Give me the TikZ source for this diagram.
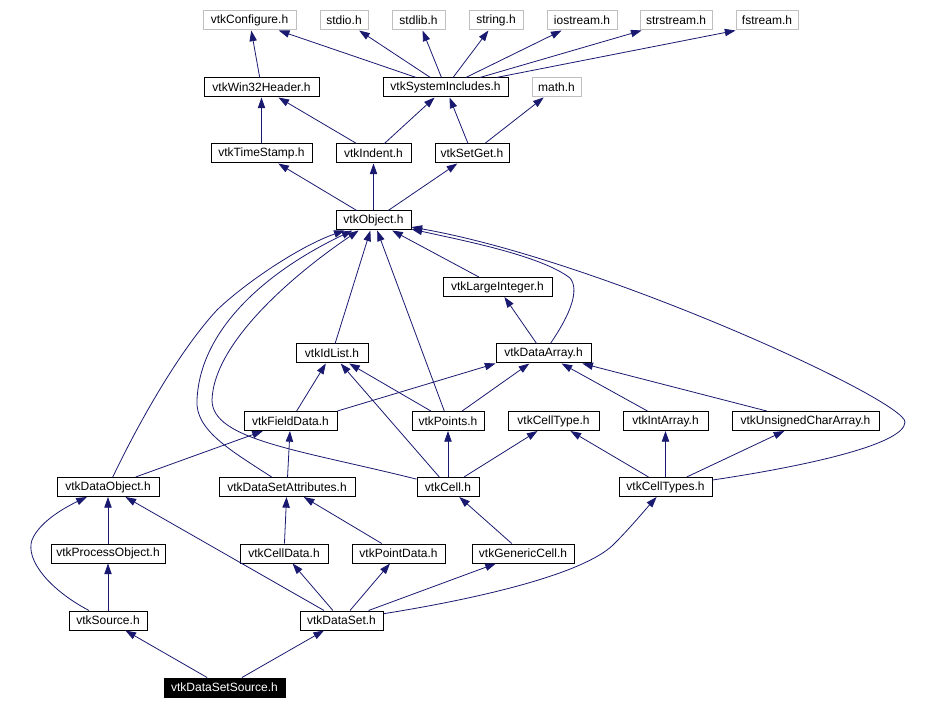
\documentclass[tikz,border=0pt]{standalone}
\usepackage{fontspec}
\setmainfont{Liberation Sans}
\usepackage{tikz}
\usetikzlibrary{arrows.meta}
\usepackage{xcolor}
\definecolor{edgeblue}{HTML}{191970}
\definecolor{sysgray}{HTML}{BFBFBF}

\begin{document}
\begin{tikzpicture}[x=0.75pt, y=-0.75pt,
        every node/.style={font=\fontsize{9}{10}\selectfont},
        hdr/.style={draw=black, line width=0.75pt, inner sep=0pt, minimum height=14.25pt, minimum width=#1*0.75pt},
        syshdr/.style={hdr=#1, draw=sysgray},
        curhdr/.style={hdr=#1, fill=black, text=white},
        dep/.style={draw=edgeblue, line width=0.6pt, -{Triangle[length=8pt,width=5.5pt]}}]
        \useasboundingbox (0,0) rectangle (950,709);
        % System headers
        \node[syshdr=93] (cfg) at (249.5,20.5) {vtkConfigure.h};
        \node[syshdr=48] (stdio) at (344,20.5) {stdio.h};
        \node[syshdr=53] (stdlib) at (418.5,20.5) {stdlib.h};
        \node[syshdr=54] (string) at (496,20.5) {string.h};
        \node[syshdr=70] (iostream) at (582,20.5) {iostream.h};
        \node[syshdr=72] (strstream) at (676,20.5) {strstream.h};
        \node[syshdr=62] (fstream) at (767,20.5) {fstream.h};
        \node[syshdr=49] (mathh) at (556.5,87.5) {math.h};
        % Common headers
        \node[hdr=115] (win32) at (261.5,87.5) {vtkWin32Header.h};
        \node[hdr=125] (sysinc) at (445.5,87.5) {vtkSystemIncludes.h};
        \node[hdr=101] (timestamp) at (261.5,153.5) {vtkTimeStamp.h};
        \node[hdr=75] (indent) at (373.5,153.5) {vtkIndent.h};
        \node[hdr=74] (setget) at (472,153.5) {vtkSetGet.h};
        \node[hdr=75] (object) at (373.5,220.5) {vtkObject.h};
        \node[hdr=109] (largeint) at (497.5,287) {vtkLargeInteger.h};
        \node[hdr=72] (idlist) at (332,353.5) {vtkIdList.h};
        \node[hdr=95] (dataarray) at (543.5,353.5) {vtkDataArray.h};
        \node[hdr=93] (fielddata) at (290.5,421) {vtkFieldData.h};
        \node[hdr=72] (points) at (448,421) {vtkPoints.h};
        \node[hdr=91] (celltype) at (553.5,421) {vtkCellType.h};
        \node[hdr=85] (intarray) at (665.5,421) {vtkIntArray.h};
        \node[hdr=147] (uchar) at (805.5,421) {vtkUnsignedCharArray.h};
        \node[hdr=102] (dataobject) at (108,487) {vtkDataObject.h};
        \node[hdr=136] (dsattr) at (287,487) {vtkDataSetAttributes.h};
        \node[hdr=62] (cell) at (448,487) {vtkCell.h};
        \node[hdr=93] (celltypes) at (665.5,487) {vtkCellTypes.h};
        \node[hdr=114] (procobj) at (108,553.5) {vtkProcessObject.h};
        \node[hdr=88] (celldata) at (284,553.5) {vtkCellData.h};
        \node[hdr=93] (pointdata) at (398.5,553.5) {vtkPointData.h};
        \node[hdr=102] (genericcell) at (523,553.5) {vtkGenericCell.h};
        \node[hdr=78] (source) at (108,620.5) {vtkSource.h};
        \node[hdr=83] (dataset) at (341.5,620.5) {vtkDataSet.h};
        \node[curhdr=121] (dssource) at (224.5,687.5) {vtkDataSetSource.h};
        % Top of the graph
        \draw[dep] (win32) -- (cfg);
        \foreach \t in {cfg,stdio,stdlib,string,iostream,strstream}
            \draw[dep] (sysinc) -- (\t);
        \draw[dep] (sysinc) -- (fstream.south west);
        \draw[dep] (timestamp) -- (win32);
        \draw[dep] (indent) -- (win32);
        \draw[dep] (indent) -- (sysinc);
        \draw[dep] (setget) -- (sysinc);
        \draw[dep] (setget) -- (mathh);
        \draw[dep] (object) -- (timestamp);
        \draw[dep] (object) -- (indent);
        \draw[dep] (object) -- (setget);
        % Into vtkObject.h
        \draw[dep] (largeint) -- (object);
        \draw[dep] (idlist) -- (object);
        \draw[dep] (points) -- (object);
        \draw[dep] (dataarray) .. controls (570,315) and (580,290) .. (570,278) .. controls (540,255) and (460,240) .. (object);
        \draw[dep] (celltypes) .. controls (800,467) and (905,445) .. (905,422) .. controls (905,400) and (600,260) .. (object);
        \draw[dep] (dataobject) .. controls (140,420) and (180,350) .. (217,310) .. controls (245,283) and (300,246) .. (object);
        \draw[dep] (dsattr) .. controls (230,450) and (195,430) .. (197,400) .. controls (200,330) and (265,272) .. (object);
        \draw[dep] (cell) .. controls (300,450) and (212,440) .. (212,400) .. controls (214,340) and (300,270) .. (object);
        % Arrays and cells
        \draw[dep] (dataarray) -- (largeint);
        \draw[dep] (fielddata) -- (idlist);
        \draw[dep] (fielddata.north east) -- (dataarray.south west);
        \draw[dep] (points) -- (idlist);
        \draw[dep] (points) -- (dataarray);
        \draw[dep] (intarray) -- (dataarray);
        \draw[dep] (uchar) -- (dataarray);
        \draw[dep] (cell) -- (idlist);
        \draw[dep] (cell) -- (points);
        \draw[dep] (cell) -- (celltype);
        \draw[dep] (celltypes) -- (celltype);
        \draw[dep] (celltypes) -- (intarray);
        \draw[dep] (celltypes) -- (uchar);
        % Data objects
        \draw[dep] (dataobject) -- (fielddata);
        \draw[dep] (dsattr) -- (fielddata);
        \draw[dep] (procobj) -- (dataobject);
        \draw[dep] (source) -- (procobj);
        \draw[dep] (source) .. controls (50,590) and (25,560) .. (32,540) .. controls (40,520) and (70,505) .. (dataobject);
        \draw[dep] (dataset) -- (dataobject);
        \draw[dep] (celldata) -- (dsattr);
        \draw[dep] (pointdata) -- (dsattr);
        \draw[dep] (genericcell) -- (cell);
        \draw[dep] (dataset) -- (celldata);
        \draw[dep] (dataset) -- (pointdata);
        \draw[dep] (dataset) -- (genericcell);
        \draw[dep] (dataset) .. controls (500,595) and (590,570) .. (615,543) .. controls (630,528) and (645,510) .. (celltypes);
        \draw[dep] (dssource) -- (source);
        \draw[dep] (dssource) -- (dataset);
\end{tikzpicture}
\end{document}
